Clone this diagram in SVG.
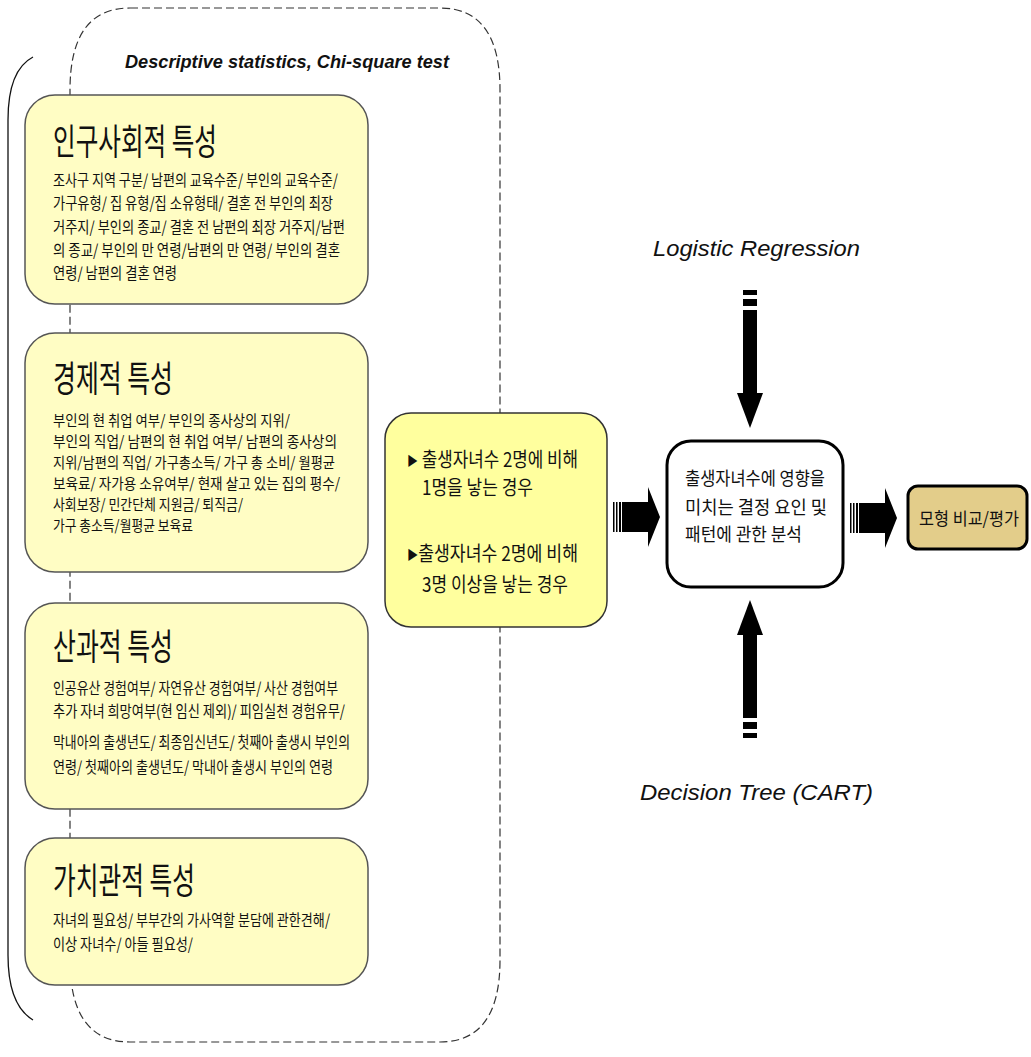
<svg xmlns="http://www.w3.org/2000/svg" width="1031" height="1057" viewBox="0 0 1031 1057">
<style>
.kr{font-family:"Noto Sans CJK KR","Noto Sans",sans-serif;fill:#111}
.ttl{font-size:36px}
.body{font-size:16px}
.b2{font-size:15px}
.cat{fill:#FFFDC4;stroke:#555;stroke-width:1.5}
.en{font-family:"Liberation Sans",Arial,sans-serif;font-style:italic;fill:#111}
.ar{fill:#000}
.tri{font-size:13px}
</style>
<defs>
<g id="harrow">
<rect x="0" y="-15" width="1.5" height="30"/>
<rect x="3" y="-15" width="1.5" height="30"/>
<rect x="6" y="-15" width="2" height="30"/>
<rect x="9" y="-15" width="27" height="30"/>
<polygon points="35,-30 47,0 35,30"/>
</g>
<g id="varrow">
<rect x="-7" y="0" width="14" height="5"/>
<rect x="-7" y="9" width="14" height="7"/>
<rect x="-7" y="20" width="14" height="85"/>
<polygon points="-13,103 13,103 0,138"/>
</g>
</defs>
<rect width="1031" height="1057" fill="#fff"/>

<g id="frame">
<path d="M130,8 H440 Q500,8 500,90 V960 Q500,1042 440,1042 H130 Q70,1042 70,960 V90 Q70,8 130,8 Z" fill="none" stroke="#333" stroke-width="1.2" stroke-dasharray="8,4"/>
<path d="M33,57 Q8,70 8,120 V955 Q8,1005 33,1020" fill="none" stroke="#111" stroke-width="1.3"/>
<text class="en" x="125" y="68" font-size="18" font-weight="bold" textLength="324" lengthAdjust="spacingAndGlyphs">Descriptive statistics, Chi-square test</text>
</g>

<g id="node-demographic">
<rect class="cat" x="25" y="95" width="343" height="209" rx="30"/>
<text class="kr ttl" x="53" y="155" textLength="164" lengthAdjust="spacingAndGlyphs">인구사회적 특성</text>
<text class="kr body" x="53" y="186" textLength="285" lengthAdjust="spacingAndGlyphs">조사구 지역 구분/ 남편의 교육수준/ 부인의 교육수준/</text>
<text class="kr body" x="53" y="209" textLength="280" lengthAdjust="spacingAndGlyphs">가구유형/ 집 유형/집 소유형태/ 결혼 전 부인의 최장</text>
<text class="kr body" x="53" y="233" textLength="292" lengthAdjust="spacingAndGlyphs">거주지/ 부인의 종교/ 결혼 전 남편의 최장 거주지/남편</text>
<text class="kr body" x="53" y="256" textLength="287" lengthAdjust="spacingAndGlyphs">의 종교/ 부인의 만 연령/남편의 만 연령/ 부인의 결혼</text>
<text class="kr body" x="53" y="279" textLength="124" lengthAdjust="spacingAndGlyphs">연령/ 남편의 결혼 연령</text>
</g>

<g id="node-economic">
<rect class="cat" x="25" y="333" width="343" height="239" rx="30"/>
<text class="kr ttl" x="53" y="392" textLength="120" lengthAdjust="spacingAndGlyphs">경제적 특성</text>
<text class="kr b2" x="53" y="426" textLength="237" lengthAdjust="spacingAndGlyphs">부인의 현 취업 여부/ 부인의 종사상의 지위/</text>
<text class="kr b2" x="53" y="447" textLength="284" lengthAdjust="spacingAndGlyphs">부인의 직업/ 남편의 현 취업 여부/ 남편의 종사상의</text>
<text class="kr b2" x="53" y="468" textLength="282" lengthAdjust="spacingAndGlyphs">지위/남편의 직업/ 가구총소득/ 가구 총 소비/ 월평균</text>
<text class="kr b2" x="53" y="489" textLength="287" lengthAdjust="spacingAndGlyphs">보육료/ 자가용 소유여부/ 현재 살고 있는 집의 평수/</text>
<text class="kr b2" x="53" y="510" textLength="190" lengthAdjust="spacingAndGlyphs">사회보장/ 민간단체 지원금/ 퇴직금/</text>
<text class="kr b2" x="53" y="531" textLength="140" lengthAdjust="spacingAndGlyphs">가구 총소득/월평균 보육료</text>
</g>

<g id="node-obstetric">
<rect class="cat" x="25" y="603" width="343" height="206" rx="30"/>
<text class="kr ttl" x="53" y="660" textLength="120" lengthAdjust="spacingAndGlyphs">산과적 특성</text>
<text class="kr body" x="53" y="694" textLength="285" lengthAdjust="spacingAndGlyphs">인공유산 경험여부/ 자연유산 경험여부/ 사산 경험여부</text>
<text class="kr body" x="53" y="717" textLength="292" lengthAdjust="spacingAndGlyphs">추가 자녀 희망여부(현 임신 제외)/ 피임실천 경험유무/</text>
<text class="kr body" x="53" y="748" textLength="297" lengthAdjust="spacingAndGlyphs">막내아의 출생년도/ 최종임신년도/ 첫째아 출생시 부인의</text>
<text class="kr body" x="53" y="773" textLength="280" lengthAdjust="spacingAndGlyphs">연령/ 첫째아의 출생년도/ 막내아 출생시 부인의 연령</text>
</g>

<g id="node-values">
<rect class="cat" x="25" y="838" width="343" height="147" rx="30"/>
<text class="kr ttl" x="53" y="894" textLength="142" lengthAdjust="spacingAndGlyphs">가치관적 특성</text>
<text class="kr body" x="53" y="926" textLength="277" lengthAdjust="spacingAndGlyphs">자녀의 필요성/ 부부간의 가사역할 분담에 관한견해/</text>
<text class="kr body" x="53" y="950" textLength="140" lengthAdjust="spacingAndGlyphs">이상 자녀수/ 아들 필요성/</text>
</g>

<g id="node-outcome">
<rect x="385" y="413" width="222" height="214" rx="26" fill="#FFFF9E" stroke="#333" stroke-width="1.5"/>
<text class="kr" font-size="20" x="407" y="467" textLength="171" lengthAdjust="spacingAndGlyphs"><tspan class="tri" dy="-2">▶</tspan><tspan dy="2"> 출생자녀수 2명에 비해</tspan></text>
<text class="kr" font-size="20" x="422" y="495" textLength="111" lengthAdjust="spacingAndGlyphs">1명을 낳는 경우</text>
<text class="kr" font-size="20" x="407" y="561" textLength="171" lengthAdjust="spacingAndGlyphs"><tspan class="tri" dy="-2">▶</tspan><tspan dy="2">출생자녀수 2명에 비해</tspan></text>
<text class="kr" font-size="20" x="422" y="592" textLength="146" lengthAdjust="spacingAndGlyphs">3명 이상을 낳는 경우</text>
</g>

<g id="node-analysis">
<rect x="667" y="441" width="176" height="146" rx="24" fill="#fff" stroke="#000" stroke-width="3"/>
<text class="kr" font-size="18.5" x="685" y="485" textLength="140" lengthAdjust="spacingAndGlyphs">출생자녀수에 영향을</text>
<text class="kr" font-size="18.5" x="685" y="514" textLength="142" lengthAdjust="spacingAndGlyphs">미치는 결정 요인 및</text>
<text class="kr" font-size="18.5" x="685" y="541" textLength="117" lengthAdjust="spacingAndGlyphs">패턴에 관한 분석</text>
</g>

<g id="node-evaluation">
<rect x="908" y="486" width="119" height="63" rx="10" fill="#E3CD8A" stroke="#000" stroke-width="3"/>
<text class="kr" font-size="17.5" x="919" y="525" textLength="100" lengthAdjust="spacingAndGlyphs">모형 비교/평가</text>
</g>

<g id="label-logistic">
<text class="en" font-size="22" x="653" y="256" textLength="207" lengthAdjust="spacingAndGlyphs">Logistic Regression</text>
</g>
<g id="label-cart">
<text class="en" font-size="22" x="640" y="800" textLength="233" lengthAdjust="spacingAndGlyphs">Decision Tree (CART)</text>
</g>

<g id="connectors" class="ar">
<use href="#harrow" transform="translate(613,517)"/>
<use href="#harrow" transform="translate(850,518)"/>
<use href="#varrow" transform="translate(750,290)"/>
<use href="#varrow" transform="translate(750,738) scale(1,-1)"/>
</g>
</svg>
